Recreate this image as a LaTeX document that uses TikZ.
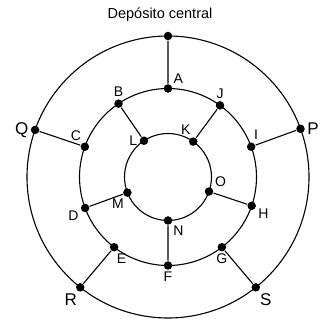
\documentclass[tikz,border=0pt]{standalone}
\usepackage{fontspec}
\setmainfont{Liberation Sans}

\begin{document}
\begin{tikzpicture}[x=1pt,y=1pt,line width=1.1pt,font=\fontsize{14}{16}\selectfont,
  dot/.style={circle,fill,inner sep=0pt,minimum size=8.5pt},
  every label/.style={inner sep=1.5pt},
  big/.style={font=\fontsize{17}{19}\selectfont}]
\useasboundingbox (0,0) rectangle (322,324);
\node[font=\fontsize{14.5}{16}\selectfont] (title) at (160,309) {Depósito central};
\begin{scope}[shift={(168,147)}]
\draw (0,0) circle (141) (0,0) circle (88.5) (0,0) circle (43.5);
% outer ring
\node[dot] (top) at (90:141) {};
\node[dot,label={[big]left:Q}] (Q) at (160.5:141) {};
\node[dot,label={[big]right:P}] (P) at (20:141) {};
\node[dot,label={[big]255:R}] (R) at (231.5:141) {};
\node[dot,label={[big]300:S}] (S) at (308.5:141) {};
% middle ring
\node[dot,label={40:A}] (A) at (90:88.5) {};
\node[dot,label={above:B}] (B) at (124:88.5) {};
\node[dot,label={above:J}] (J) at (54:88.5) {};
\node[dot,label={112:C}] (C) at (160:88.5) {};
\node[dot,label={78:I}] (I) at (20:88.5) {};
\node[dot,label={193:D}] (D) at (200.5:88.5) {};
\node[dot,label={349:H}] (H) at (341:88.5) {};
\node[dot,label={278:E}] (E) at (232.5:88.5) {};
\node[dot,label={below:F}] (F) at (270:88.5) {};
\node[dot,label={below:G}] (G) at (307.5:88.5) {};
% inner ring
\node[dot,label={left:L}] (L) at (123.5:43.5) {};
\node[dot,label={100:K}] (K) at (54.5:43.5) {};
\node[dot,label={250:M}] (M) at (201:43.5) {};
\node[dot,label={32:O}] (O) at (340.5:43.5) {};
\node[dot,label={315:N}] (N) at (270:43.5) {};
\end{scope}
\draw (top)--(A) (B)--(L) (J)--(K) (Q)--(C) (I)--(P)
      (D)--(M) (O)--(H) (N)--(F) (E)--(R) (G)--(S);
\end{tikzpicture}
\end{document}
